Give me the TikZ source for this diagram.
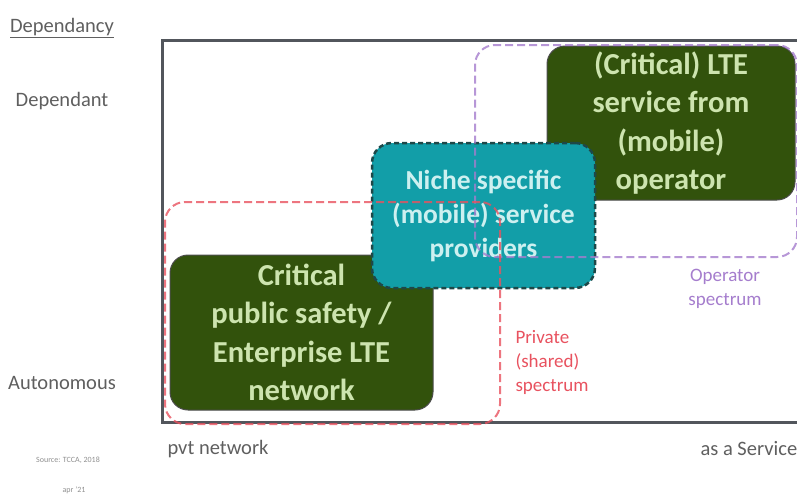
\documentclass[tikz,border=0pt]{standalone}
\usepackage{fontspec}
\setmainfont{Carlito}
\usepackage{xcolor}
\usetikzlibrary{positioning}
\definecolor{boxgreen}{RGB}{50,82,12}
\definecolor{boxtext}{RGB}{205,228,175}
\definecolor{nichefill}{RGB}{18,158,168}
\definecolor{nichetext}{RGB}{205,240,240}
\definecolor{nicheline}{RGB}{30,72,72}
\definecolor{opline}{RGB}{165,125,205}
\definecolor{privline}{RGB}{232,82,95}
\definecolor{axistext}{RGB}{95,95,95}
\definecolor{framegray}{RGB}{82,86,92}
\tikzset{
  greenbox/.style={draw=black!70, line width=1pt, rounded corners=18pt, fill=boxgreen,
                   text=boxtext, align=center, inner sep=0pt,
                   font=\fontsize{30.5}{38.5}\selectfont\bfseries},
  nichebox/.style={draw=nicheline, dash pattern=on 5pt off 3pt, line width=2.5pt,
                   rounded corners=20pt, fill=nichefill, text=nichetext, align=center,
                   inner sep=0pt, font=\fontsize{27.5}{34}\selectfont\bfseries},
  region/.style={line width=2pt, rounded corners=20pt, inner sep=0pt,
                 dash pattern=on 8pt off 4pt, draw opacity=0.8},
  axislabel/.style={font=\fontsize{20.5}{24}\selectfont, text=axistext},
  spectext/.style={font=\fontsize{19}{24}\selectfont, align=left},
  tinylabel/.style={font=\fontsize{8}{10}\selectfont, text=axistext!70}
}
\begin{document}
\begin{tikzpicture}[x=1pt, y=-1pt]
\useasboundingbox (0,0) rectangle (797,498);

% --- Frame positions ---
\def\xleft{162}
\def\ytop{40}
\def\ybot{422}

% --- Axis frame (right side runs off the page) ---
\draw[framegray, line width=3pt] (830,\ytop) -- (\xleft,\ytop) -- (\xleft,\ybot) -- (830,\ybot);

% --- Left axis labels ---
\node[axislabel] (dependancy) at (62,28) {\underline{Dependancy}};
\node[axislabel] (dependant)  at (62,101) {Dependant};
\node[axislabel] (autonomous) at (62,383) {Autonomous};
\node[tinylabel] (source) at (68,460) {Source: TCCA, 2018};
\node[tinylabel] (date)   at (74,490) {apr '21};

% --- Bottom axis labels ---
\node[axislabel] (pvt) at (218,449) {pvt network};
\node[axislabel, anchor=west] (service) at (697,449) {as a Service};

% --- Green boxes ---
\node[greenbox, minimum width=248pt, minimum height=154pt] (opbox) at (671,123)
  {(Critical) LTE\\service from\\(mobile)\\operator};
\node[greenbox, minimum width=263pt, minimum height=155pt] (entbox) at (301.5,332.5)
  {Critical\\public safety /\\Enterprise LTE\\network};

% --- Niche providers (sits over both) ---
\node[nichebox, minimum width=223pt, minimum height=145pt] (niche) at (483.5,215.5)
  {Niche specific\\(mobile) service\\providers};

% --- Spectrum regions (drawn last, show through the boxes) ---
\node[region, draw=opline, minimum width=322pt, minimum height=212pt] (opregion) at (636,151) {};
\node[region, draw=privline, minimum width=335pt, minimum height=222pt] (privregion) at (332.5,313) {};

\node[spectext, text=opline, align=center] (opspec) at (725,289) {Operator\\spectrum};
\node[spectext, text=privline, anchor=west] (privspec) at (512,362) {Private\\(shared)\\spectrum};

\end{tikzpicture}
\end{document}
